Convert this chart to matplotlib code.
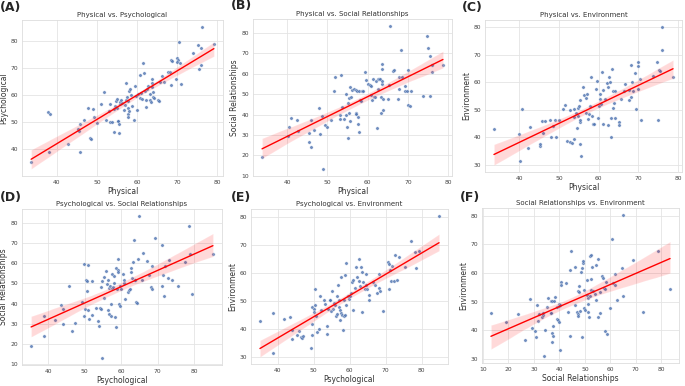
"""Pairwise regression plots of the four quality-of-life domains."""
import matplotlib

matplotlib.use("Agg")
import matplotlib.pyplot as plt
import numpy as np
import seaborn as sns
from matplotlib.ticker import MultipleLocator

# --- Data, one x/y pair of lists per panel ---

a_physical = [33.6, 37.8, 38.3, 38.0, 42.75, 45.25, 45.5, 45.7, 45.9, 46.8, 47.75, 48.2, 48.6,
              49.1, 49.4, 50.0, 51.0, 51.8, 52.2, 53.0, 53.2, 53.3, 53.75, 54.2, 54.4, 54.6,
              54.8, 55.0, 55.0, 55.2, 55.4, 55.5, 55.5, 55.7, 55.8, 56.1, 56.3, 56.7, 57.0,
              57.2, 57.25, 57.5, 57.7, 57.7, 57.75, 57.8, 58.0, 58.1, 58.3, 58.5, 58.8, 59.2,
              59.5, 59.8, 60.1, 60.3, 60.7, 60.8, 61.1, 61.25, 61.4, 61.75, 61.9, 62.2, 62.3,
              62.6, 62.8, 63.2, 63.3, 63.5, 63.7, 63.75, 63.8, 63.9, 64.0, 64.2, 65.25, 65.5,
              65.75, 66.2, 66.7, 67.8, 68.25, 68.5, 68.7, 68.6, 69.7, 70.0, 70.25, 70.0, 70.5,
              70.75, 71.0, 74.1, 75.25, 75.4, 75.9, 76.0, 76.3, 79.2]
a_psychological = [35.4, 54.0, 53.2, 39.0, 41.8, 47.4, 46.7, 38.9, 49.5, 50.9, 55.3, 44.1, 43.7,
                   54.8, 52.0, 49.8, 56.6, 61.2, 50.9, 54.1, 56.6, 50.1, 50.1, 46.4, 55.1, 56.2,
                   57.8, 58.6, 55.3, 50.6, 50.6, 49.5, 46.0, 56.6, 57.6, 58.1, 57.1, 54.7, 56.3,
                   58.4, 64.4, 59.3, 57.8, 55.3, 52.9, 51.9, 54.1, 61.5, 62.5, 60.3, 56.1, 51.0,
                   63.6, 59.6, 54.7, 60.6, 59.1, 67.7, 60.9, 58.6, 72.1, 68.2, 61.5, 55.8, 58.2,
                   62.5, 63.4, 60.5, 58.1, 57.6, 66.1, 64.6, 63.0, 59.4, 61.2, 59.1, 58.1, 57.8,
                   64.8, 67.2, 65.0, 68.7, 68.6, 73.2, 72.7, 64.0, 66.2, 73.7, 73.2, 72.2, 79.75,
                   71.9, 64.3, 75.7, 78.6, 69.6, 71.4, 77.6, 85.3, 78.9]

b_physical = [33.75, 40.1, 40.4, 40.9, 42.4, 42.7, 45.3, 45.3, 45.8, 46.0, 46.7, 47.8, 48.1,
              48.6, 49.0, 49.5, 50.0, 51.0, 51.7, 52.0, 53.0, 53.1, 53.3, 53.7, 54.1, 54.5,
              54.7, 54.9, 55.0, 55.1, 55.3, 55.5, 55.4, 55.5, 55.9, 56.2, 56.7, 57.0, 57.0,
              57.2, 57.4, 57.7, 57.7, 57.9, 57.9, 58.1, 58.4, 58.7, 58.9, 59.3, 59.7, 60.2,
              60.5, 60.7, 60.8, 61.0, 61.2, 61.5, 61.8, 62.1, 62.2, 62.5, 62.6, 62.8, 63.0,
              63.2, 63.3, 63.5, 63.5, 63.6, 63.6, 63.7, 63.9, 65.1, 65.2, 65.6, 66.2, 66.5,
              67.5, 67.8, 67.9, 68.3, 68.5, 69.2, 69.3, 69.9, 69.7, 70.1, 70.5, 70.7, 73.7,
              74.8, 75.1, 75.4, 75.6, 75.9, 76.0, 78.7]
b_social = [19.4, 29.4, 33.9, 38.2, 37.3, 31.9, 26.8, 30.9, 24.0, 37.5, 32.2, 43.4, 30.4,
            39.3, 13.4, 34.7, 33.9, 37.2, 51.7, 58.6, 39.6, 37.7, 59.6, 43.6, 37.7, 50.0,
            39.6, 33.9, 28.6, 45.7, 48.0, 53.3, 40.8, 36.8, 48.4, 52.2, 52.3, 41.0, 40.1,
            52.2, 51.4, 38.8, 35.2, 31.4, 51.7, 47.1, 46.4, 51.7, 51.4, 60.6, 57.1, 54.8,
            54.3, 54.0, 49.7, 47.2, 57.6, 48.7, 48.4, 56.3, 33.5, 57.3, 52.3, 57.6, 57.6,
            40.6, 48.4, 55.0, 56.3, 64.8, 62.4, 47.4, 42.3, 47.4, 54.6, 83.3, 61.2, 61.9,
            47.5, 58.3, 52.3, 71.8, 58.3, 54.1, 51.7, 62.0, 51.7, 44.6, 44.1, 51.3, 48.9,
            78.5, 72.8, 68.6, 48.9, 60.7, 64.4, 64.4]

c_physical = [33.65, 39.9, 40.2, 40.7, 42.2, 42.6, 45.2, 45.3, 45.8, 45.9, 46.6, 47.8, 48.1,
              48.5, 49.1, 49.3, 50.0, 51.0, 51.6, 52.0, 52.8, 52.9, 53.4, 53.7, 53.9, 53.9,
              54.4, 54.6, 54.8, 54.9, 55.1, 55.2, 55.3, 55.3, 55.4, 55.5, 56.1, 56.4, 56.7,
              56.9, 57.1, 57.3, 57.6, 57.7, 58.1, 58.2, 58.5, 58.9, 59.2, 59.5, 59.8, 60.0,
              60.2, 60.4, 60.7, 60.9, 61.0, 61.2, 61.6, 62.0, 62.3, 62.3, 62.6, 62.8, 63.0,
              63.2, 63.3, 63.5, 63.7, 63.8, 64.0, 64.2, 65.1, 65.2, 65.5, 66.3, 66.5, 67.5,
              67.6, 68.0, 68.2, 68.4, 68.7, 69.2, 69.4, 69.8, 69.9, 69.9, 70.3, 70.7, 73.6,
              74.7, 74.9, 75.2, 75.4, 75.8, 76.0, 78.7]
c_environment = [43.0, 41.1, 31.2, 50.4, 36.2, 43.6, 36.8, 37.4, 45.8, 41.5, 45.8, 46.4, 40.0,
                 44.2, 46.1, 40.0, 46.4, 50.2, 51.9, 38.8, 49.8, 38.1, 37.9, 47.5, 50.2, 39.5,
                 48.7, 43.3, 47.9, 50.8, 51.4, 45.7, 53.7, 46.1, 37.7, 33.3, 58.2, 55.2, 54.2,
                 48.8, 55.7, 46.7, 48.5, 51.4, 62.0, 47.9, 44.8, 44.8, 57.4, 60.5, 47.1, 51.2,
                 53.8, 55.6, 52.1, 63.8, 57.0, 44.9, 53.8, 59.8, 44.5, 58.3, 61.8, 60.2, 40.0,
                 46.9, 64.9, 56.8, 50.5, 52.5, 46.9, 56.8, 45.5, 44.6, 54.0, 56.7, 59.5, 57.1,
                 53.6, 54.6, 66.2, 60.1, 56.9, 63.2, 50.1, 66.0, 67.5, 57.6, 61.0, 46.2, 62.1,
                 67.4, 46.4, 64.3, 63.9, 71.7, 80.1, 61.8]

d_psychological = [35.25, 38.8, 38.8, 41.8, 43.6, 43.9, 44.1, 45.75, 46.5, 47.3, 49.1, 49.8,
                   49.8, 50.0, 50.3, 50.5, 50.7, 50.8, 50.95, 51.1, 51.9, 52.1, 52.95, 53.5,
                   53.8, 54.2, 54.5, 54.5, 54.6, 54.7, 55.2, 55.3, 55.7, 55.98, 56.5, 56.5,
                   56.6, 56.7, 56.9, 57.1, 57.3, 57.4, 57.4, 57.7, 58.0, 58.1, 58.4, 58.6,
                   58.7, 58.9, 59.1, 59.2, 59.2, 59.4, 59.6, 59.8, 59.98, 60.4, 60.7, 60.9,
                   61.0, 61.9, 62.2, 62.4, 62.6, 62.8, 63.1, 63.3, 63.6, 63.7, 63.9, 64.2,
                   64.4, 64.7, 65.0, 65.8, 66.0, 67.0, 67.6, 68.2, 68.4, 68.5, 69.4, 71.1,
                   71.2, 71.5, 71.7, 71.96, 72.9, 73.1, 74.0, 75.7, 77.4, 78.6, 79.0, 79.5,
                   85.2]
d_social = [19.3, 33.8, 23.9, 31.8, 39.4, 37.3, 30.2, 48.8, 26.7, 30.7, 40.6, 59.7, 33.8,
            37.4, 51.9, 46.2, 51.0, 58.9, 36.8, 32.5, 34.6, 51.3, 38.1, 31.5, 29.0, 37.9,
            37.6, 48.3, 51.3, 13.2, 53.1, 43.0, 56.4, 49.6, 51.6, 37.1, 48.0, 34.8, 48.6,
            34.1, 39.6, 54.6, 47.8, 48.3, 53.6, 50.0, 33.5, 28.5, 57.6, 47.5, 56.6, 55.7,
            62.3, 39.9, 38.7, 48.6, 47.3, 54.9, 50.0, 51.6, 42.5, 45.8, 46.7, 47.3, 57.6,
            55.7, 52.9, 60.7, 71.7, 51.6, 51.9, 40.6, 40.2, 62.0, 83.3, 51.6, 65.1, 61.2,
            54.3, 48.3, 47.5, 58.5, 72.6, 68.9, 48.8, 54.1, 44.0, 58.5, 52.8, 61.8, 51.6,
            48.8, 60.7, 78.3, 64.8, 44.7, 64.8]

e_psychological = [35.1, 38.6, 38.6, 41.8, 43.45, 44.0, 44.0, 45.5, 46.0, 46.4, 46.8, 47.1,
                   49.2, 49.5, 49.6, 49.6, 50.0, 50.2, 50.4, 50.5, 50.7, 50.8, 51.5, 51.8,
                   52.0, 52.9, 53.2, 53.6, 53.7, 54.0, 54.4, 54.5, 54.7, 55.1, 55.5, 55.7,
                   56.0, 56.2, 56.5, 56.5, 56.8, 56.9, 57.1, 57.3, 57.45, 57.6, 57.7, 58.0,
                   58.2, 58.3, 58.5, 58.6, 58.7, 59.0, 59.1, 59.45, 59.8, 60.2, 60.5, 60.7,
                   60.9, 61.0, 61.4, 61.8, 62.1, 62.5, 62.7, 62.9, 63.1, 63.4, 63.5, 63.8,
                   64.2, 64.4, 64.5, 64.9, 65.4, 65.5, 66.6, 67.1, 67.7, 68.1, 68.2, 68.5,
                   69.3, 70.7, 70.9, 71.0, 71.2, 71.6, 71.8, 72.4, 72.7, 73.1, 73.6, 75.3,
                   77.1, 78.2, 78.5, 79.2, 84.8]
e_environment = [42.8, 31.3, 45.6, 43.4, 44.0, 36.3, 39.6, 37.7, 39.1, 37.2, 36.8, 37.5,
                 33.1, 41.6, 37.7, 47.7, 47.0, 45.8, 54.1, 48.5, 44.4, 38.8, 39.9, 51.7,
                 46.5, 50.1, 48.9, 41.0, 38.0, 47.0, 50.3, 50.1, 46.2, 53.6, 47.0, 49.1,
                 48.4, 44.4, 45.3, 51.5, 55.7, 47.7, 50.3, 43.2, 46.7, 45.6, 58.4, 44.8,
                 39.6, 44.7, 50.3, 59.2, 44.8, 48.5, 63.6, 51.5, 50.5, 51.5, 52.7, 56.8,
                 57.4, 46.7, 54.5, 61.9, 58.4, 57.2, 64.8, 55.3, 61.9, 60.3, 46.0, 56.7,
                 54.3, 55.5, 59.6, 54.1, 51.9, 50.3, 56.5, 55.6, 52.9, 59.6, 54.5, 53.3,
                 46.4, 63.8, 63.1, 54.1, 61.0, 57.2, 62.4, 57.2, 66.3, 57.4, 65.7, 61.9,
                 71.4, 67.3, 61.7, 67.6, 80.2]

f_social = [13.2, 19.2, 23.7, 26.6, 28.4, 29.1, 30.3, 30.8, 31.2, 31.8, 32.2, 33.2, 33.6,
            33.7, 33.9, 34.5, 35.0, 35.5, 36.6, 36.7, 36.8, 36.96, 37.1, 37.3, 37.5, 37.6,
            37.9, 38.4, 38.9, 39.1, 39.5, 39.7, 39.9, 40.0, 40.4, 40.4, 40.55, 40.7, 42.6,
            43.5, 44.0, 44.0, 44.5, 46.1, 46.3, 47.1, 47.2, 47.3, 47.5, 47.6, 47.7, 48.1,
            48.5, 48.8, 48.9, 49.2, 49.4, 49.7, 49.8, 50.0, 50.7, 50.95, 51.2, 51.3, 51.3,
            51.5, 52.0, 52.2, 52.4, 52.5, 52.6, 52.7, 53.3, 53.8, 54.3, 54.5, 55.1, 55.3,
            55.8, 56.1, 56.9, 57.1, 57.4, 57.8, 57.8, 58.1, 58.5, 59.7, 60.7, 61.2, 61.7,
            62.0, 62.5, 64.6, 64.8, 65.1, 68.7, 72.8, 78.6, 83.4]
f_environment = [46.1, 43.0, 45.6, 36.6, 50.8, 40.8, 39.8, 37.5, 48.75, 43.3, 45.5, 44.6,
                 45.3, 46.1, 31.0, 40.1, 48.1, 51.1, 46.0, 50.1, 45.9, 36.0, 39.1, 50.1,
                 41.6, 38.0, 50.1, 51.5, 48.2, 43.9, 43.5, 49.3, 43.0, 48.6, 48.75, 33.1,
                 56.9, 55.7, 56.4, 46.4, 61.0, 37.8, 67.7, 62.0, 48.75, 46.4, 45.5, 44.8,
                 53.8, 55.5, 53.4, 46.7, 60.3, 61.8, 37.6, 63.6, 64.0, 54.0, 47.8, 47.0,
                 57.4, 52.2, 51.1, 49.3, 46.2, 44.7, 65.9, 51.8, 58.0, 66.3, 54.0, 62.2,
                 53.6, 52.7, 62.9, 50.6, 44.6, 65.0, 53.4, 45.9, 58.9, 58.2, 54.8, 54.3,
                 39.7, 56.9, 38.8, 47.6, 71.7, 56.6, 55.7, 59.5, 50.6, 61.7, 52.0, 80.2,
                 64.4, 46.4, 67.6, 54.3]

panel_letters = ["(A)", "(B)", "(C)", "(D)", "(E)", "(F)"]
x_labels = ["Physical", "Physical", "Physical", "Psychological", "Psychological",
            "Social Relationships"]
y_labels = ["Psychological", "Social Relationships", "Environment", "Social Relationships",
            "Environment", "Environment"]
panel_data = [
    (a_physical, a_psychological),
    (b_physical, b_social),
    (c_physical, c_environment),
    (d_psychological, d_social),
    (e_psychological, e_environment),
    (f_social, f_environment),
]

# axes boxes in pixels: left, top, right, bottom
FIG_W, FIG_H = 685, 386
boxes = [
    (22, 20, 223, 176),
    (253, 19, 452, 176),
    (485, 20, 682, 172),
    (22, 209, 222, 365),
    (251, 209, 448, 364),
    (482, 208, 679, 363),
]
# where the panel letter sits, pixels from top-left
letter_pos = [(0, 7), (231, 6), (462, 8), (0, 197), (231, 197), (460, 197)]


def main() -> None:
    sns.set_theme(style="whitegrid")
    plt.rcParams["font.family"] = ["DejaVu Sans"]

    fig = plt.figure(figsize=(FIG_W / 100, FIG_H / 100), dpi=100)

    for i, (x, y) in enumerate(panel_data):
        left, top, right, bottom = boxes[i]
        ax = fig.add_axes([left / FIG_W, 1 - bottom / FIG_H,
                           (right - left) / FIG_W, (bottom - top) / FIG_H])
        sns.regplot(
            x=np.array(x), y=np.array(y), ax=ax, seed=0,
            scatter_kws=dict(s=6, color="#4C72B0", edgecolor="white", linewidths=0.3),
            line_kws=dict(color="red", lw=1.0),
        )
        ax.set_title(f"{x_labels[i]} vs. {y_labels[i]}", fontsize=5, color="#333333", pad=2.5)
        ax.set_xlabel(x_labels[i], fontsize=5.5, color="#333333", labelpad=1.5)
        ax.set_ylabel(y_labels[i], fontsize=5.5, color="#333333", labelpad=1.5)
        ax.xaxis.set_major_locator(MultipleLocator(10))
        ax.yaxis.set_major_locator(MultipleLocator(10))
        ax.tick_params(length=0, labelsize=4.3, pad=3, colors="#444444")
        for spine in ax.spines.values():
            spine.set_color("#dddddd")
            spine.set_linewidth(0.6)
        ax.grid(color="#e4e4e4", linewidth=0.6)

        lx, ly = letter_pos[i]
        fig.text(lx / FIG_W, 1 - ly / FIG_H, panel_letters[i],
                 fontsize=9, fontweight="bold", va="center", ha="left")

    fig.savefig("out.png", dpi=100)


if __name__ == "__main__":
    main()
